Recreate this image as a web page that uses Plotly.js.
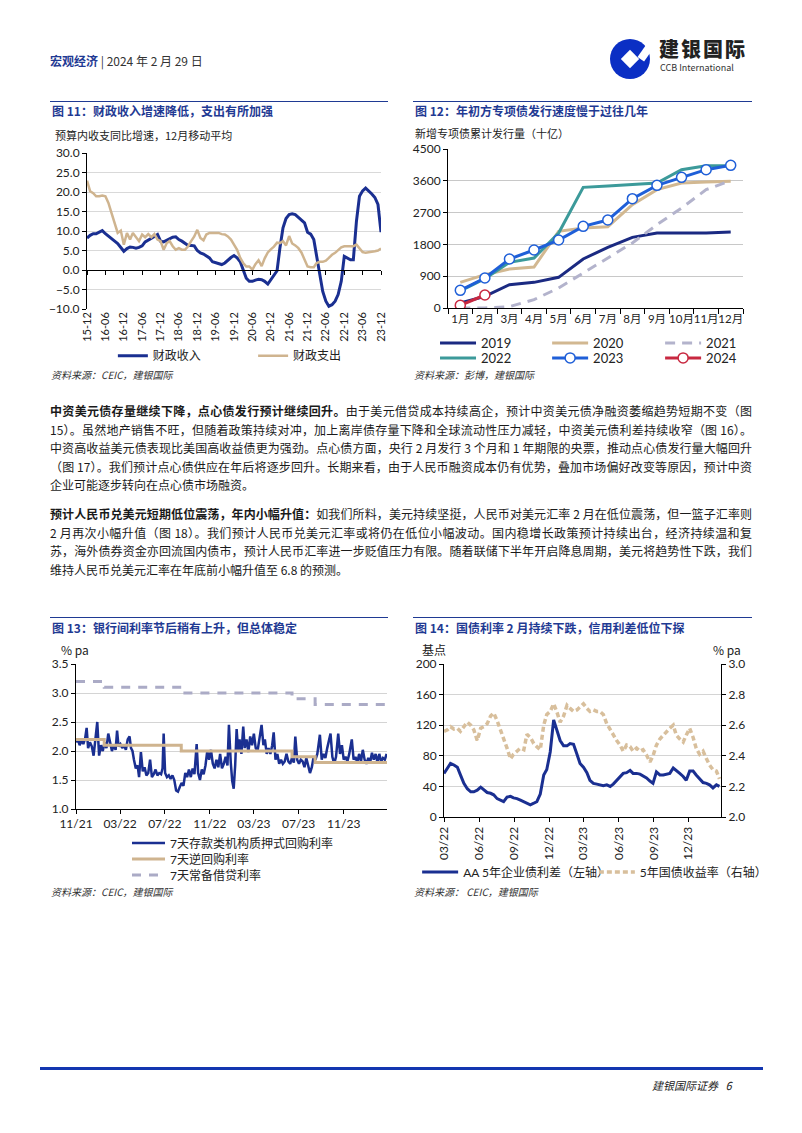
<!DOCTYPE html>
<html><head><meta charset="utf-8">
<script src="https://cdn.plot.ly/plotly-3.0.1.min.js"></script>
<style>
body{margin:0;background:#fff;}
#page{position:relative;width:802px;height:1133px;overflow:hidden;font-family:"Noto Sans CJK SC",sans-serif;color:#1a1a1a;background:#fff;}
.a{position:absolute;white-space:nowrap;}
.t{font-size:12px;font-weight:700;color:#1f3a93;line-height:16px;}
.st{font-size:11px;color:#222;line-height:13px;}
.src{font-size:10px;font-style:italic;color:#333;line-height:12px;}
.rule{position:absolute;height:1px;background:#1f3a93;}
.bl{position:absolute;left:50px;width:702px;font-size:12px;line-height:18px;text-align:justify;text-align-last:justify;white-space:nowrap;}
.bl.last{text-align-last:left;}
.bl b{font-weight:700;}
.ch{position:absolute;}
</style></head>
<body>
<div id="page">
  <div class="a" style="left:50px;top:52px;font-size:12px;line-height:18px;"><span style="color:#1f3a93;font-weight:700;">宏观经济</span><span style="color:#333;"> | 2024 年 2 月 29 日</span></div>
  <svg class="a" style="left:608px;top:37px" width="44" height="44" viewBox="0 0 44 44">
    <circle cx="22" cy="22" r="20" fill="#0b2fc4"/>
    <rect x="15.5" y="15.5" width="13" height="13" fill="#fff" transform="rotate(45 22 22)"/>
    <rect x="27" y="-2" width="8" height="18" fill="#fff" transform="rotate(35 22 22)"/>
  </svg>
  <div class="a" style="left:659px;top:39px;font-size:20px;font-weight:900;color:#222;line-height:20px;letter-spacing:2px;">建银国际</div>
  <div class="a" style="left:660px;top:63px;font-size:9px;color:#333;line-height:10px;">CCB International</div>

  <div class="rule" style="left:50px;top:101px;width:338px;"></div>
  <div class="a t" style="left:52px;top:103px;">图 11：财政收入增速降低，支出有所加强</div>
  <div class="a st" style="left:55px;top:129px;">预算内收支同比增速，12月移动平均</div>
  <div class="ch" id="c11" style="left:40px;top:125px;width:360px;height:265px;"></div>
  <div class="a src" style="left:51px;top:369px;">资料来源：CEIC，建银国际</div>

  <div class="rule" style="left:413px;top:101px;width:339px;"></div>
  <div class="a t" style="left:415px;top:103px;">图 12：年初方专项债发行速度慢于过往几年</div>
  <div class="a st" style="left:415px;top:127px;">新增专项债累计发行量（十亿）</div>
  <div class="ch" id="c12" style="left:405px;top:125px;width:395px;height:265px;"></div>
  <div class="a src" style="left:414px;top:369px;">资料来源：彭博，建银国际</div>

  <div class="bl" style="top:402px;"><b>中资美元债存量继续下降，点心债发行预计继续回升。</b>由于美元借贷成本持续高企，预计中资美元债净融资萎缩趋势短期不变（图</div>
  <div class="bl" style="top:421px;">15）。虽然地产销售不旺，但随着政策持续对冲，加上离岸债存量下降和全球流动性压力减轻，中资美元债利差持续收窄（图 16）。</div>
  <div class="bl" style="top:439px;">中资高收益美元债表现比美国高收益债更为强劲。点心债方面，央行 2 月发行 3 个月和 1 年期限的央票，推动点心债发行量大幅回升</div>
  <div class="bl" style="top:458px;">（图 17）。我们预计点心债供应在年后将逐步回升。长期来看，由于人民币融资成本仍有优势，叠加市场偏好改变等原因，预计中资</div>
  <div class="bl last" style="top:476px;">企业可能逐步转向在点心债市场融资。</div>

  <div class="bl" style="top:505px;"><b>预计人民币兑美元短期低位震荡，年内小幅升值：</b>如我们所料，美元持续坚挺，人民币对美元汇率 2 月在低位震荡，但一篮子汇率则</div>
  <div class="bl" style="top:524px;">2 月再次小幅升值（图 18）。我们预计人民币兑美元汇率或将仍在低位小幅波动。国内稳增长政策预计持续出台，经济持续温和复</div>
  <div class="bl" style="top:542px;">苏，海外债券资金亦回流国内债市，预计人民币汇率进一步贬值压力有限。随着联储下半年开启降息周期，美元将趋势性下跌，我们</div>
  <div class="bl last" style="top:561px;">维持人民币兑美元汇率在年底前小幅升值至 6.8 的预测。</div>

  <div class="rule" style="left:50px;top:617px;width:338px;"></div>
  <div class="a t" style="left:52px;top:620px;">图 13：银行间利率节后稍有上升，但总体稳定</div>
  <div class="a st" style="left:61px;top:643px;font-size:12px;">% pa</div>
  <div class="ch" id="c13" style="left:40px;top:640px;width:360px;height:270px;"></div>
  <div class="a src" style="left:51px;top:886px;">资料来源：CEIC，建银国际</div>

  <div class="rule" style="left:413px;top:617px;width:339px;"></div>
  <div class="a t" style="left:415px;top:620px;">图 14：国债利率 2 月持续下跌，信用利差低位下探</div>
  <div class="a st" style="left:422px;top:643px;font-size:12px;">基点</div>
  <div class="a st" style="left:713px;top:643px;font-size:12px;">% pa</div>
  <div class="ch" id="c14" style="left:405px;top:640px;width:395px;height:270px;"></div>
  <div class="a src" style="left:414px;top:886px;">资料来源： CEIC，建银国际</div>

  <div class="a" style="left:40px;top:1067px;width:723px;height:3px;background:#1336b0;"></div>
  <div class="a" style="left:652px;top:1077px;font-size:11px;font-style:italic;color:#222;line-height:16px;">建银国际证券&nbsp;&nbsp;&nbsp;6</div>
</div>
<script>
// ---------- Figure 11 data ----------
const f11Months = ['2015-12',
 '2016-01','2016-02','2016-03','2016-04','2016-05','2016-06','2016-07','2016-08','2016-09','2016-10','2016-11','2016-12',
 '2017-01','2017-02','2017-03','2017-04','2017-05','2017-06','2017-07','2017-08','2017-09','2017-10','2017-11','2017-12',
 '2018-01','2018-02','2018-03','2018-04','2018-05','2018-06','2018-07','2018-08','2018-09','2018-10','2018-11','2018-12',
 '2019-01','2019-02','2019-03','2019-04','2019-05','2019-06','2019-07','2019-08','2019-09','2019-10','2019-11','2019-12',
 '2020-01','2020-02','2020-03','2020-04','2020-05','2020-06','2020-07','2020-08','2020-09','2020-10','2020-11','2020-12',
 '2021-01','2021-02','2021-03','2021-04','2021-05','2021-06','2021-07','2021-08','2021-09','2021-10','2021-11','2021-12',
 '2022-01','2022-02','2022-03','2022-04','2022-05','2022-06','2022-07','2022-08','2022-09','2022-10','2022-11','2022-12',
 '2023-01','2023-02','2023-03','2023-04','2023-05','2023-06','2023-07','2023-08','2023-09','2023-10','2023-11','2023-12'];
const f11Revenue = [8.2,
 8.9,9.3,9.3,9.7,10.1,9.3,8.6,8.0,7.4,6.8,5.8,4.8,
 5.5,5.9,5.8,5.6,5.8,6.2,7.2,7.6,8.2,8.6,9.1,7.4,
 7.2,7.6,7.9,8.4,8.5,7.8,7.4,6.8,6.3,6.3,6.2,5.0,
 4.4,4.1,3.7,3.1,2.1,1.8,1.5,1.4,1.8,2.6,3.2,3.7,
 3.1,2.1,0.2,-2.1,-2.9,-2.9,-2.6,-2.4,-2.5,-2.9,-3.6,-2.5,
 -1.4,-0.2,5.6,10.8,13.2,14.2,14.4,14.2,13.5,12.9,12.1,9.7,
 9.2,7.8,3.9,-1.2,-5.5,-8.0,-9.3,-8.9,-8.0,-6.3,-2.9,3.5,
 3.1,2.6,2.6,12.5,18.9,20.3,21.0,20.3,19.5,18.6,16.8,9.7];
const f11Expend = [22.9,
 20.2,19.7,18.9,18.9,19.1,18.9,17.2,14.6,12.1,9.5,10.1,6.5,
 9.5,7.8,9.5,8.4,7.4,9.1,8.4,9.2,8.4,9.2,7.8,7.4,
 5.2,6.9,7.4,6.1,5.2,5.6,5.2,5.2,6.1,7.4,8.6,10.3,
 8.2,7.6,9.1,9.5,9.5,9.5,9.5,9.2,9.1,8.6,7.8,6.5,
 5.2,3.1,1.8,0.9,0.9,0.1,1.5,2.5,1.0,3.0,4.5,5.3,
 6.0,7.0,6.9,7.4,6.3,8.7,6.8,6.3,5.6,4.5,2.5,0.9,
 0.7,0.7,1.8,2.1,2.1,2.4,3.1,3.9,4.4,5.0,5.8,6.1,
 6.1,6.1,6.1,6.5,5.6,4.6,4.4,4.5,4.6,4.8,5.0,5.5];

// ---------- Figure 12 data ----------
const f12Months = ['1月','2月','3月','4月','5月','6月','7月','8月','9月','10月','11月','12月'];
const f12Y2019 = [141,330,660,726,868,1387,1717,2000,2123,2123,2123,2150];
const f12Y2020 = [726,943,1104,1160,2170,2264,2300,2925,3349,3538,3566,3585];
const f12Y2021 = [0,0,40,236,566,990,1415,1840,2358,2830,3349,3604];
const f12Y2022 = [484,830,1292,1415,2123,3415,3450,3500,3538,3915,4028,4028];
const f12Y2023 = [500,849,1387,1642,1924,2311,2490,3094,3472,3698,3915,4038];
const f12Y2024 = [75,368];

// ---------- Figure 13 data ----------
const f13Dates = [
 '2021-11-01','2021-11-06','2021-11-11','2021-11-16','2021-11-21','2021-11-26','2021-11-30',
 '2021-12-04','2021-12-09','2021-12-14','2021-12-19','2021-12-24','2021-12-29',
 '2022-01-03','2022-01-08','2022-01-13','2022-01-18','2022-01-23','2022-01-28',
 '2022-02-02','2022-02-07','2022-02-12','2022-02-17','2022-02-21','2022-02-25',
 '2022-03-02','2022-03-07','2022-03-12','2022-03-17','2022-03-22','2022-03-27','2022-03-31',
 '2022-04-04','2022-04-08','2022-04-13','2022-04-18','2022-04-22','2022-04-27',
 '2022-05-02','2022-05-07','2022-05-12','2022-05-17','2022-05-22','2022-05-27',
 '2022-06-01','2022-06-06','2022-06-11','2022-06-16','2022-06-21','2022-06-25','2022-06-28',
 '2022-07-02','2022-07-07','2022-07-12','2022-07-17','2022-07-22','2022-07-27',
 '2022-08-01','2022-08-06','2022-08-11','2022-08-16','2022-08-21','2022-08-26','2022-08-31',
 '2022-09-05','2022-09-10','2022-09-15','2022-09-20','2022-09-26','2022-09-30',
 '2022-10-05','2022-10-10','2022-10-15','2022-10-20','2022-10-25','2022-10-30',
 '2022-11-04','2022-11-09','2022-11-14','2022-11-19','2022-11-24','2022-11-29',
 '2022-12-04','2022-12-09','2022-12-14','2022-12-19','2022-12-23','2022-12-28',
 '2023-01-01','2023-01-05','2023-01-09','2023-01-13','2023-01-17','2023-01-21','2023-01-26','2023-01-31',
 '2023-02-04','2023-02-09','2023-02-14','2023-02-19','2023-02-24',
 '2023-03-01','2023-03-06','2023-03-11','2023-03-16','2023-03-22','2023-03-27','2023-03-31',
 '2023-04-05','2023-04-10','2023-04-15','2023-04-20','2023-04-24','2023-04-29',
 '2023-05-04','2023-05-09','2023-05-14','2023-05-19','2023-05-24','2023-05-29',
 '2023-06-03','2023-06-08','2023-06-13','2023-06-18','2023-06-22','2023-06-27',
 '2023-07-02','2023-07-07','2023-07-12','2023-07-17','2023-07-22','2023-07-27',
 '2023-08-01','2023-08-06','2023-08-11','2023-08-16','2023-08-21','2023-08-28',
 '2023-09-02','2023-09-07','2023-09-12','2023-09-17','2023-09-21','2023-09-26',
 '2023-10-01','2023-10-06','2023-10-11','2023-10-17','2023-10-22','2023-10-27',
 '2023-11-01','2023-11-06','2023-11-11','2023-11-16','2023-11-23','2023-11-28',
 '2023-12-03','2023-12-08','2023-12-13','2023-12-18','2023-12-23','2023-12-28',
 '2024-01-02','2024-01-07','2024-01-12','2024-01-17','2024-01-22','2024-01-27',
 '2024-02-01','2024-02-06','2024-02-11','2024-02-16','2024-02-21','2024-02-26'];
const f13Dr007 = [
 2.15,2.20,2.10,2.18,2.12,2.22,2.40,
 2.05,2.15,2.08,1.92,2.28,2.50,
 1.92,2.10,2.00,2.15,2.05,2.30,
 2.15,2.00,2.10,2.02,2.35,2.08,
 2.12,2.05,2.10,2.02,2.20,2.25,2.05,
 2.00,1.85,1.70,1.75,1.55,1.98,
 1.65,1.72,1.58,1.62,1.85,1.55,
 1.60,1.68,1.58,1.62,1.60,1.70,2.30,
 1.62,1.55,1.58,1.52,1.58,1.50,
 1.32,1.30,1.38,1.45,1.40,1.62,1.55,
 1.68,1.55,1.70,1.60,2.12,1.62,
 1.50,1.68,1.60,1.75,2.00,1.85,
 2.02,1.78,1.70,1.85,1.72,1.95,
 1.70,1.78,1.90,1.75,2.45,1.80,
 1.48,1.35,1.75,2.38,2.00,2.20,1.95,2.42,
 2.05,2.20,1.98,2.25,2.10,
 2.30,2.05,2.00,2.25,2.45,2.10,2.20,
 1.95,2.05,1.95,2.10,2.32,1.85,
 1.95,1.78,1.85,1.78,1.82,1.95,
 1.82,1.78,1.88,1.80,2.25,1.85,
 1.78,1.85,1.82,1.72,1.88,1.75,
 1.62,1.72,1.90,1.85,1.95,2.28,
 1.85,1.95,1.88,2.05,2.15,2.30,
 1.90,1.78,1.90,2.30,1.95,2.10,
 1.85,1.90,1.82,1.95,2.20,1.85,
 1.90,1.80,1.95,1.82,2.02,1.85,
 1.78,1.88,1.80,1.97,1.85,1.95,
 1.80,1.95,1.82,1.88,1.85,1.95];
const f13RateDates = ['2021-11-01','2022-01-17','2022-08-15','2023-06-13','2023-08-15','2024-02-27'];
const f13Repo = [2.2,2.1,2.0,1.9,1.8,1.8];
const f13Slf = [3.2,3.1,3.0,2.9,2.8,2.8];

// ---------- Figure 14 data ----------
const f14Dates = [
 '2022-03-01','2022-03-10','2022-03-18','2022-03-27','2022-04-05','2022-04-13','2022-04-22',
 '2022-05-01','2022-05-10','2022-05-18','2022-05-27','2022-06-05','2022-06-13','2022-06-22',
 '2022-07-01','2022-07-09','2022-07-18','2022-07-27','2022-08-04','2022-08-13','2022-08-22','2022-08-30',
 '2022-09-08','2022-09-17','2022-09-26','2022-10-04','2022-10-13','2022-10-22','2022-10-30',
 '2022-11-08','2022-11-17','2022-11-25','2022-12-04','2022-12-13','2022-12-21','2022-12-30',
 '2023-01-08','2023-01-17','2023-01-25','2023-02-03','2023-02-12','2023-02-20',
 '2023-03-01','2023-03-10','2023-03-18','2023-03-27','2023-04-05','2023-04-13','2023-04-22',
 '2023-05-01','2023-05-10','2023-05-18','2023-05-27','2023-06-05','2023-06-13','2023-06-22',
 '2023-07-01','2023-07-09','2023-07-18','2023-07-27','2023-08-04','2023-08-13','2023-08-22','2023-08-30',
 '2023-09-08','2023-09-17','2023-09-26','2023-10-04','2023-10-13','2023-10-22','2023-10-30',
 '2023-11-08','2023-11-17','2023-11-25','2023-12-04','2023-12-13','2023-12-21','2023-12-30',
 '2024-01-08','2024-01-17','2024-01-25','2024-02-03','2024-02-12','2024-02-20'];
const f14Spread = [
 57,64,70,68,65,55,44,
 37,33,33,35,39,36,32,
 31,29,24,22,20,26,27,25,
 24,22,20,18,16,18,20,
 30,55,62,85,127,115,100,
 93,93,96,95,82,70,
 65,58,48,44,43,42,41,
 42,40,43,48,53,57,58,
 61,57,57,56,54,51,47,44,
 59,55,55,56,57,64,61,
 57,53,48,60,60,55,50,
 45,44,42,38,42,40];
const f14Cgb = [
 2.56,2.57,2.59,2.575,2.58,2.56,2.59,
 2.62,2.60,2.57,2.50,2.58,2.59,2.61,
 2.66,2.68,2.63,2.57,2.51,2.45,2.38,2.41,
 2.43,2.45,2.44,2.54,2.52,2.48,2.46,
 2.44,2.60,2.67,2.69,2.74,2.69,2.62,
 2.66,2.73,2.71,2.69,2.70,2.72,
 2.74,2.71,2.69,2.70,2.69,2.69,2.67,
 2.61,2.57,2.535,2.50,2.47,2.43,2.47,
 2.46,2.43,2.45,2.43,2.44,2.405,2.36,2.40,
 2.47,2.51,2.535,2.56,2.58,2.60,2.535,
 2.51,2.49,2.535,2.58,2.52,2.45,2.41,
 2.43,2.38,2.34,2.31,2.30,2.25];

// ---------- common ----------
const FONT = {family:'Lato, "Noto Sans CJK SC", sans-serif', size:12, color:'#222'};
const CFG = {staticPlot:true, displayModeBar:false};
const axLine = {showline:true, linecolor:'#000', linewidth:1, ticks:'outside', ticklen:4, tickcolor:'#000', zeroline:false, automargin:false};
const NAVY = '#1a2f91', TAN = '#cfb48f', GREY = '#ababc6';
function leg(x, y, size, iw){
  return {orientation:'v', x:x, xanchor:'left', y:y, yanchor:'middle', itemwidth:iw||30,
          font:{size:size||12, color:'#222'}, bgcolor:'rgba(0,0,0,0)', borderwidth:0};
}

// Figure 11
Plotly.newPlot('c11', [
  {x:f11Months, y:f11Revenue, name:'财政收入', type:'scatter', mode:'lines', line:{color:NAVY, width:3}, xaxis:'x', yaxis:'y', legend:'legend'},
  {x:f11Months, y:f11Expend, name:'财政支出', type:'scatter', mode:'lines', line:{color:TAN, width:2.5}, xaxis:'x2', yaxis:'y', legend:'legend2'}
], {
  width:360, height:265, margin:{l:47, r:19, t:28, b:81},
  paper_bgcolor:'rgba(0,0,0,0)', plot_bgcolor:'#fff', font:FONT,
  xaxis:{type:'date', range:['2015-12-01','2023-12-01'], tick0:'2015-12-01', dtick:'M6', tickformat:'%y-%m', tickangle:-90,
         showgrid:false, showline:false, zeroline:false, ticks:'', tickfont:{size:11}, automargin:false},
  xaxis2:{type:'date', overlaying:'x', range:['2015-12-01','2023-12-01'], anchor:'free', position:0.25, tick0:'2015-12-01', dtick:'M6',
          showticklabels:false, showgrid:false, ...axLine},
  yaxis:{range:[-10,30], dtick:5, tickformat:'.1f', gridcolor:'#d9d9d9', ...axLine},
  showlegend:true,
  legend:leg(0.088, -0.30, 12, 30),
  legend2:leg(0.565, -0.30, 12, 30)
}, CFG);

// Figure 12
Plotly.newPlot('c12', [
  {x:f12Months, y:f12Y2019, name:'2019', mode:'lines', line:{color:'#1b2a82', width:3}, legend:'legend'},
  {x:f12Months, y:f12Y2020, name:'2020', mode:'lines', line:{color:'#d2b891', width:3}, legend:'legend2'},
  {x:f12Months, y:f12Y2021, name:'2021', mode:'lines', line:{color:'#b3b3cc', width:3, dash:'10px,7px'}, legend:'legend3'},
  {x:f12Months, y:f12Y2022, name:'2022', mode:'lines', line:{color:'#3c9a9a', width:3}, legend:'legend4'},
  {x:f12Months, y:f12Y2023, name:'2023', mode:'lines+markers', line:{color:'#1f5fd8', width:3},
     marker:{symbol:'circle', size:10, color:'#fff', line:{color:'#1f5fd8', width:1.5}}, legend:'legend5'},
  {x:f12Months.slice(0, f12Y2024.length), y:f12Y2024, name:'2024', mode:'lines+markers', line:{color:'#c82840', width:3},
     marker:{symbol:'circle', size:10, color:'#fff', line:{color:'#c82840', width:1.5}}, legend:'legend6'}
], {
  width:395, height:265, margin:{l:43, r:57, t:24, b:82},
  paper_bgcolor:'rgba(0,0,0,0)', plot_bgcolor:'#fff', font:FONT,
  xaxis:{type:'category', range:[-0.5,11.5], tickson:'boundaries', tickangle:0, showgrid:false, ...axLine, ticklen:5, tickfont:{size:11.5}},
  yaxis:{range:[0,4500], dtick:900, gridcolor:'#c8c8c8', ...axLine},
  showlegend:true,
  legend:leg(-0.044, -0.220, 13, 36),
  legend2:leg(0.336, -0.220, 13, 36),
  legend3:leg(0.719, -0.220, 13, 36),
  legend4:leg(-0.044, -0.314, 13, 36),
  legend5:leg(0.336, -0.314, 13, 36),
  legend6:leg(0.719, -0.314, 13, 36)
}, CFG);

// Figure 13
Plotly.newPlot('c13', [
  {x:f13Dates, y:f13Dr007, name:'7天存款类机构质押式回购利率', mode:'lines', line:{color:NAVY, width:2.5}, legend:'legend'},
  {x:f13RateDates, y:f13Repo, name:'7天逆回购利率', mode:'lines', line:{color:TAN, width:3, shape:'hv'}, legend:'legend2'},
  {x:f13RateDates, y:f13Slf, name:'7天常备借贷利率', mode:'lines', line:{color:GREY, width:3, shape:'hv', dash:'9px,8px'}, legend:'legend3'}
], {
  width:360, height:270, margin:{l:36, r:13, t:24, b:101},
  paper_bgcolor:'rgba(0,0,0,0)', plot_bgcolor:'#fff', font:FONT,
  xaxis:{type:'date', range:['2021-11-01','2024-02-27'], tick0:'2021-11-01', dtick:'M4', tickformat:'%m/%y', showgrid:false, ...axLine},
  yaxis:{range:[1,3.5], dtick:0.5, tickformat:'.1f', gridcolor:'#d4d4d4', ...axLine},
  showlegend:true,
  legend:leg(0.164, -0.234, 12, 33),
  legend2:leg(0.164, -0.345, 12, 33),
  legend3:leg(0.164, -0.455, 12, 33)
}, CFG);

// Figure 14
Plotly.newPlot('c14', [
  {x:f14Dates, y:f14Spread, name:'AA 5年企业债利差（左轴）', mode:'lines', line:{color:NAVY, width:3}, yaxis:'y', legend:'legend'},
  {x:f14Dates, y:f14Cgb, name:'5年国债收益率（右轴）', mode:'lines', line:{color:'#d8bf9c', width:3.5, dash:'5px,3px'}, yaxis:'y2', legend:'legend2'}
], {
  width:395, height:270, margin:{l:37, r:79, t:24, b:93},
  paper_bgcolor:'rgba(0,0,0,0)', plot_bgcolor:'#fff', font:FONT,
  xaxis:{type:'date', range:['2022-03-01','2024-02-24'], tick0:'2022-03-01', dtick:'M3', tickformat:'%m/%y', tickangle:-90, showgrid:false, ...axLine},
  yaxis:{range:[0,200], dtick:40, gridcolor:'#d4d4d4', ...axLine},
  yaxis2:{range:[2,3], dtick:0.2, tickformat:'.1f', overlaying:'y', side:'right', anchor:'x', showgrid:false, ...axLine},
  showlegend:true,
  legend:leg(-0.097, -0.359, 12, 36),
  legend2:leg(0.541, -0.359, 12, 36)
}, CFG);
</script>
</body></html>
